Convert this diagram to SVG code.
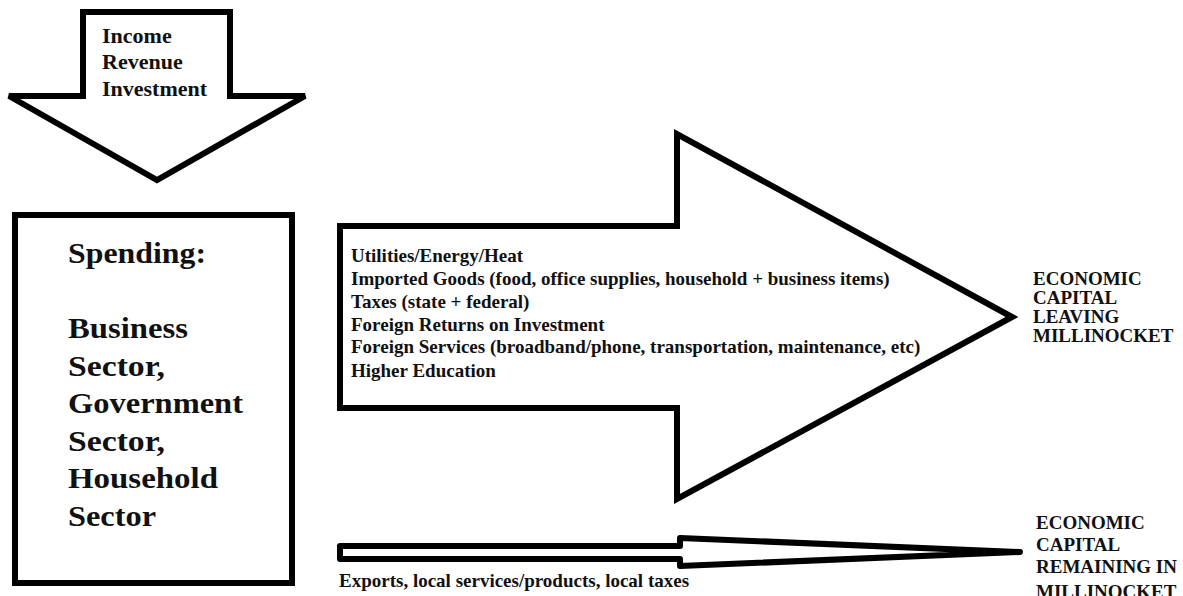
<svg xmlns="http://www.w3.org/2000/svg" width="1183" height="596" viewBox="0 0 1183 596">
<style>
.shape{fill:#fff;stroke:#000;stroke-width:6;stroke-linejoin:miter;stroke-miterlimit:2.2}
.t{font-family:"Liberation Serif","Times New Roman",serif;font-weight:bold;fill:#111}
.s19{font-size:19px}
.s22{font-size:22px}
.s30{font-size:30px}
</style>
<rect width="1183" height="596" fill="#fff"/>
<g id="income-arrow">
<polygon class="shape" points="83,12 230,12 230,96 305,96 157,180 9,96 83,96"/>
<text class="t s22" x="102" y="43">Income</text>
<text class="t s22" x="102" y="69">Revenue</text>
<text class="t s22" x="102" y="96">Investment</text>
</g>
<g id="spending-box">
<rect class="shape" x="15" y="215" width="277" height="368"/>
<text class="t s30" x="68" y="263" textLength="138" lengthAdjust="spacingAndGlyphs">Spending:</text>
<text class="t s30" x="68" y="338" textLength="120" lengthAdjust="spacingAndGlyphs">Business</text>
<text class="t s30" x="68" y="376" textLength="97" lengthAdjust="spacingAndGlyphs">Sector,</text>
<text class="t s30" x="68" y="413" textLength="175" lengthAdjust="spacingAndGlyphs">Government</text>
<text class="t s30" x="68" y="451" textLength="97" lengthAdjust="spacingAndGlyphs">Sector,</text>
<text class="t s30" x="68" y="488" textLength="150" lengthAdjust="spacingAndGlyphs">Household</text>
<text class="t s30" x="68" y="526" textLength="88" lengthAdjust="spacingAndGlyphs">Sector</text>
</g>
<g id="connectors">
<polygon id="leaving-arrow" class="shape" points="340,226 677,226 677,134 1012,317 677,499 677,408 340,408"/>
<polygon id="remaining-arrow" class="shape" style="stroke-linejoin:round" points="340,546 680,546 680,538 1020,552 680,566 680,559 340,559"/>
</g>
<g id="leaving-items">
<text class="t s19" x="351" y="262">Utilities/Energy/Heat</text>
<text class="t s19" x="351" y="285">Imported Goods (food, office supplies, household + business items)</text>
<text class="t s19" x="351" y="308">Taxes (state + federal)</text>
<text class="t s19" x="351" y="331">Foreign Returns on Investment</text>
<text class="t s19" x="351" y="353">Foreign Services (broadband/phone, transportation, maintenance, etc)</text>
<text class="t s19" x="351" y="377">Higher Education</text>
</g>
<g id="leaving-label">
<text class="t s19" x="1033" y="285">ECONOMIC</text>
<text class="t s19" x="1033" y="304">CAPITAL</text>
<text class="t s19" x="1033" y="323">LEAVING</text>
<text class="t s19" x="1033" y="342">MILLINOCKET</text>
</g>
<g id="remaining-items">
<text class="t s19" x="339" y="587">Exports, local services/products, local taxes</text>
</g>
<g id="remaining-label">
<text class="t s19" x="1036" y="529">ECONOMIC</text>
<text class="t s19" x="1036" y="551">CAPITAL</text>
<text class="t s19" x="1036" y="573">REMAINING IN</text>
<text class="t s19" x="1036" y="598">MILLINOCKET</text>
</g>
</svg>
